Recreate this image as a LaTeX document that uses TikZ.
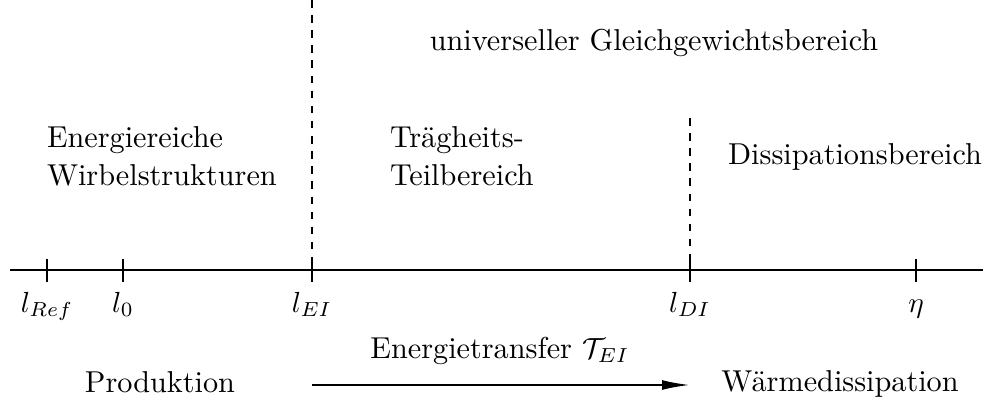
\documentclass[tikz,border=0pt]{standalone}
\usepackage{fontspec}
\usetikzlibrary{arrows.meta}
\tikzset{
  lbl/.style={inner sep=0pt, outer sep=0pt, font=\fontsize{10.4}{12.5}\selectfont},
  axisline/.style={line width=0.7pt},
  tickline/.style={line width=0.7pt},
  sepline/.style={line width=0.7pt, dash pattern=on 2.6pt off 2.6pt},
  flowarrow/.style={line width=0.7pt, -{Latex[length=9.6pt,width=3.4pt]}}
}
\begin{document}
\begin{tikzpicture}[x=0.344pt,y=-0.344pt]
\useasboundingbox (0,0) rectangle (983,403);
% axis
\coordinate (axL) at (10,270);
\coordinate (axR) at (983,270);
\draw[axisline] (axL) -- (axR);
% ticks
\coordinate (tRefT) at (47,259);  \coordinate (tRefB) at (47,282);
\coordinate (t0T) at (123,259);   \coordinate (t0B) at (123,282);
\coordinate (tEIT) at (312,259);  \coordinate (tEIB) at (312,282);
\coordinate (tDIT) at (690,259);  \coordinate (tDIB) at (690,282);
\coordinate (tetaT) at (916,259); \coordinate (tetaB) at (916,282);
\draw[tickline] (tRefT) -- (tRefB);
\draw[tickline] (t0T) -- (t0B);
\draw[tickline] (tEIT) -- (tEIB);
\draw[tickline] (tDIT) -- (tDIB);
\draw[tickline] (tetaT) -- (tetaB);
% tick labels
\node[lbl, anchor=base] (lRef) at (47,312) {$l_{Ref}$};
\node[lbl, anchor=base] (l0) at (123,312) {$l_0$};
\node[lbl, anchor=base] (lEI) at (312,312) {$l_{EI}$};
\node[lbl, anchor=base] (lDI) at (690,312) {$l_{DI}$};
\node[lbl, anchor=base] (leta) at (916,312) {$\eta$};
% dashed separators
\coordinate (sepEItop) at (312,0);
\coordinate (sepDItop) at (690,118);
\draw[sepline] (sepEItop) -- (tEIT);
\draw[sepline] (sepDItop) -- (tDIT);
% region labels
\node[lbl, anchor=base] (univ) at (654,51) {universeller Gleichgewichtsbereich};
\node[lbl, anchor=base west] (ener1) at (47,148) {Energiereiche};
\node[lbl, anchor=base west] (ener2) at (47,186) {Wirbelstrukturen};
\node[lbl, anchor=base west] (trag1) at (390,148) {Trägheits-};
\node[lbl, anchor=base west] (trag2) at (390,186) {Teilbereich};
\node[lbl, anchor=base] (diss) at (855,165) {Dissipationsbereich};
% bottom
\node[lbl, anchor=base] (transfer) at (500,358) {Energietransfer $\mathcal{T}_{EI}$};
\node[lbl, anchor=base] (prod) at (160,392) {Produktion};
\node[lbl, anchor=base] (waerme) at (840,391) {Wärmedissipation};
\coordinate (arrS) at (312,385);
\coordinate (arrE) at (690,385);
\draw[flowarrow] (arrS) -- (arrE);
\end{tikzpicture}
\end{document}
